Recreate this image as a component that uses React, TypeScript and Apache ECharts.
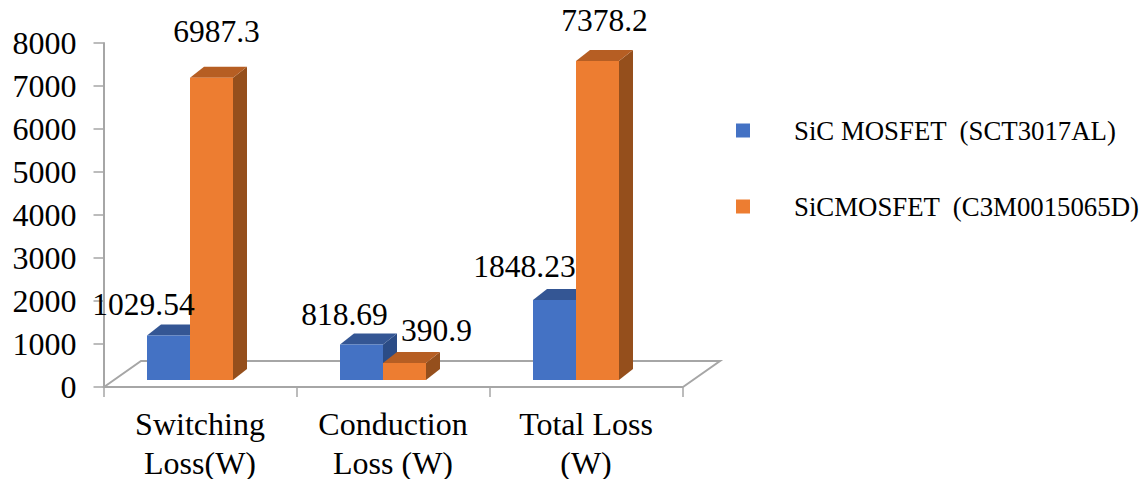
import React, { useEffect, useRef } from "react";
import * as echarts from "echarts";

const categories = ["Switching\nLoss(W)", "Conduction\nLoss (W)", "Total Loss\n(W)"];
const sctValues = [1029.54, 818.69, 1848.23];
const c3mValues = [6987.3, 390.9, 7378.2];
const seriesNames = ["SiC MOSFET  (SCT3017AL)", "SiCMOSFET  (C3M0015065D)"];

const SERIF = '"Liberation Serif", "Times New Roman", serif';
const GREY = "#a6a6a6";
const DEPTH_X = 14;
const DEPTH_Y = 11;
const BAR_SHARE = 43 / 193;

// Hand-placed label nudges from the top centre of each bar's front face
const sctLabelNudge = [[-25, -31], [-17, -30], [-30, -34]];
const c3mLabelNudge = [[5, -46], [32, -33], [7, -40]];

const palette = [
  { front: "#4472C4", top: "#345694", side: "#2B4C86" },
  { front: "#ED7D31", top: "#B65E23", side: "#954F1C" },
];

// One extruded bar: front face, top face and right-hand side face
const prismRenderer = (which: number) => (_params: any, api: any) => {
  const cat = api.value(0);
  const val = api.value(1);
  const w = api.size([1, 0])[0] * BAR_SHARE;
  const centre = api.coord([cat, val]);
  const base = api.coord([cat, 0]);
  const x0 = which === 0 ? centre[0] - w : centre[0];
  const x1 = x0 + w;
  const yTop = centre[1];
  const yBase = base[1];
  const c = palette[which];
  return {
    type: "group",
    children: [
      {
        type: "polygon",
        shape: { points: [[x1, yBase], [x1 + DEPTH_X, yBase - DEPTH_Y], [x1 + DEPTH_X, yTop - DEPTH_Y], [x1, yTop]] },
        style: { fill: c.side },
      },
      {
        type: "polygon",
        shape: { points: [[x0, yTop], [x0 + DEPTH_X, yTop - DEPTH_Y], [x1 + DEPTH_X, yTop - DEPTH_Y], [x1, yTop]] },
        style: { fill: c.top },
      },
      {
        type: "rect",
        shape: { x: x0, y: yTop, width: w, height: yBase - yTop },
        style: { fill: c.front },
      },
    ],
  };
};

const labelRenderer = (which: number, nudges: number[][]) => (params: any, api: any) => {
  const cat = api.value(0);
  const val = api.value(1);
  const w = api.size([1, 0])[0] * BAR_SHARE;
  const p = api.coord([cat, val]);
  const n = nudges[params.dataIndex];
  return {
    type: "text",
    z2: 100,
    style: {
      text: String(val),
      x: p[0] + (which === 0 ? -w / 2 : w / 2) + n[0],
      y: p[1] + n[1],
      fill: "#000",
      font: `31.5px ${SERIF}`,
      align: "center",
      verticalAlign: "middle",
    },
  };
};

const toRows = (values: number[]) => values.map((v, i) => [i, v]);

export default function App() {
  const ref = useRef<HTMLDivElement>(null);

  useEffect(() => {
    const chart = echarts.init(ref.current!, undefined, { renderer: "svg" });
    chart.setOption({
      animation: false,
      backgroundColor: "#fff",
      grid: [
        // Visible frame with tick labels
        { left: 103.5, top: 43, width: 579, height: 344, outerBoundsMode: "none" },
        // Bars stand on the raised floor, slightly inset from the frame
        { left: 93.5, top: 34, width: 579, height: 346, outerBoundsMode: "none" },
      ],
      xAxis: [
        {
          type: "category",
          gridIndex: 0,
          data: categories,
          axisLine: { lineStyle: { color: GREY, width: 2 } },
          axisTick: { show: true, length: 10, alignWithLabel: false, lineStyle: { color: GREY, width: 1.5 } },
          axisLabel: { color: "#000", fontFamily: SERIF, fontSize: 32, lineHeight: 39, margin: 17, interval: 0 },
        },
        { type: "category", gridIndex: 1, data: categories, show: false },
      ],
      yAxis: [
        {
          type: "value",
          gridIndex: 0,
          min: 0,
          max: 8000,
          interval: 1000,
          splitLine: { show: false },
          axisLine: { show: true, lineStyle: { color: GREY, width: 2 } },
          axisTick: { show: true, length: 10, lineStyle: { color: GREY, width: 1.5 } },
          axisLabel: { color: "#000", fontFamily: SERIF, fontSize: 32, margin: 27, formatter: (v: number) => String(v) },
        },
        { type: "value", gridIndex: 1, min: 0, max: 8000, interval: 1000, show: false, splitLine: { show: false } },
      ],
      legend: {
        orient: "vertical",
        left: 731,
        top: 112,
        itemWidth: 14,
        itemHeight: 14,
        itemGap: 49,
        icon: "rect",
        data: seriesNames,
        textStyle: { color: "#000", fontFamily: SERIF, fontSize: 26.8, padding: [0, 0, 0, 39] },
      },
      // Perspective floor behind the bars
      graphic: [
        {
          type: "polyline",
          z: -1,
          shape: { points: [[104, 387], [141, 361], [720, 361], [683, 387]] },
          style: { stroke: GREY, lineWidth: 2, fill: "none" },
        },
      ],
      series: [
        {
          type: "custom",
          name: seriesNames[0],
          xAxisIndex: 1,
          yAxisIndex: 1,
          itemStyle: { color: palette[0].front },
          encode: { x: 0, y: 1 },
          data: toRows(sctValues),
          renderItem: prismRenderer(0),
          z: 3,
        },
        {
          type: "custom",
          name: seriesNames[1],
          xAxisIndex: 1,
          yAxisIndex: 1,
          itemStyle: { color: palette[1].front },
          encode: { x: 0, y: 1 },
          data: toRows(c3mValues),
          renderItem: prismRenderer(1),
          z: 4,
        },
        {
          type: "custom",
          name: "sctLabels",
          xAxisIndex: 1,
          yAxisIndex: 1,
          encode: { x: 0, y: 1 },
          data: toRows(sctValues),
          renderItem: labelRenderer(0, sctLabelNudge),
          z: 5,
        },
        {
          type: "custom",
          name: "c3mLabels",
          xAxisIndex: 1,
          yAxisIndex: 1,
          encode: { x: 0, y: 1 },
          data: toRows(c3mValues),
          renderItem: labelRenderer(1, c3mLabelNudge),
          z: 5,
        },
      ],
    });
    return () => chart.dispose();
  }, []);

  return <div ref={ref} style={{ position: "absolute", left: 0, top: 0, width: 1145, height: 479 }} />;
}
